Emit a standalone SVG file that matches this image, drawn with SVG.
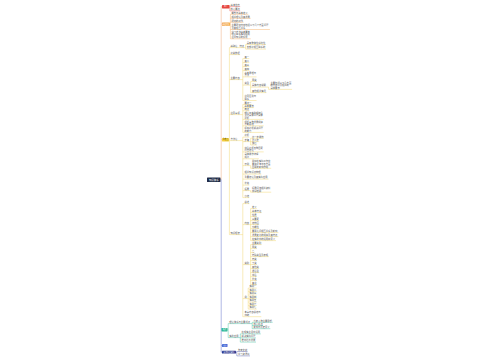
<svg xmlns="http://www.w3.org/2000/svg" width="500" height="360" viewBox="0 0 500 360">
<style>
.t{font-family:"Noto Sans CJK SC","Noto Sans",sans-serif;font-size:2.3px;fill:#555}
.w{font-family:"Noto Sans CJK SC","Noto Sans",sans-serif;font-size:1.8px;fill:#fff;text-anchor:middle}
.c{fill:none;stroke-width:0.45}
.cr{stroke:#ea5a52}.co{stroke:#f5ae62}.cy{stroke:#f2d466}.ct{stroke:#45c2a4}.cn{stroke:#5a64b4}
.cu{stroke:#f4c3a2;stroke-width:0.7}.cd{stroke:#8e9ad8;stroke-width:0.7}
</style>
<rect width="500" height="360" fill="#fff"/>
<g id="connectors">
<path class="c cu" d="M220.5,179.7 H221.2 V6.7 H222 M221.2,24.2 H222 M221.2,139.7 H222"/>
<path class="c cd" d="M220.5,179.7 H221.2 V352.2 H222 M221.2,329.7 H221.5 M221.2,345.5 H222"/>
<path class="c cr" d="M229.5,6.7 H229.8 M229.8,6.6 V10.9 M229.8,6.6 H240.2 M229.8,10.9 H240.2"/>
<path class="c co" d="M230,24.2 H230.4 M230.4,14.3 V38.8 M230.4,14.3 H248.3 M230.4,18.3 H250.7 M230.4,22.3 H243.5 M230.4,29.5 H269.9 M230.4,38.8 H250.7"/>
<path class="c cy" d="M229,139.7 H229.4 M229.4,47.6 V234.6 M229.4,47.6 H244.3 M229.4,54.6 H240.1 M229.4,79.6 H240.1 M229.4,114.6 H240.1 M229.4,140.6 H237.7 M229.4,234.6 H240.1
M244.3,47.6 H245.6 M245.6,44.6 V49.1 M245.6,44.6 H266 M245.6,49.1 H266
M240.1,79.6 H242.8 M242.8,58.6 V100.5 M242.8,58.6 H249.3 M242.8,62.6 H249.3 M242.8,66.6 H249.3 M242.8,70.6 H249.3 M242.8,76.9 H256.5 M242.8,85.1 H249.3 M242.8,100.5 H256.5
M249.3,85.1 H250.6 M250.6,81.6 V92.6 M250.6,81.6 H256.8 M250.6,87.1 H266.4 M250.6,92.6 H266.4 M266.4,87.1 H268.6 V89.4 H292.1
M240.1,114.6 H242.8 M242.8,104.4 V132.4 M242.8,104.4 H251.7 M242.8,107.6 H254.1 M242.8,110.8 H249.3 M242.8,119.4 H263.7 M242.8,125.8 H263.7 M242.8,132.4 H263.7
M237.7,140.6 H242.8 M242.8,137.1 V197.6 M242.8,137.1 H249.3 M242.8,141.6 H249.3 M242.8,151.9 H263.7 M242.8,158.8 H258.9 M242.8,165.6 H249.3 M242.8,174.1 H261.3 M242.8,179.1 H268.5 M242.8,185.1 H249.3 M242.8,190.6 H249.3 M242.8,197.6 H249.3
M249.3,141.6 H250.6 M250.6,138.2 V145 M250.6,138.2 H264 M250.6,141.6 H259.2 M250.6,145 H256.8
M249.3,165.6 H250.6 V168.3 H271.2 M249.3,190.6 H250.6 V192.2 H271.2
M240.1,234.6 H242.8 M242.8,203.6 V316.7 M242.8,203.6 H249.3 M242.8,224.6 H249.3 M242.8,264.6 H249.3 M242.8,298.6 H246.9 M242.8,316.7 H261.3
M249.3,224.6 H250.6 M250.6,208.6 V240.6 M250.6,208.6 H256.8 M250.6,212.6 H261.6 M250.6,216.6 H256.8 M250.6,220.6 H259.2 M250.6,224.6 H259.2 M250.6,228.6 H259.2 M250.6,232.6 H278.4 M250.6,236.6 H278.4 M250.6,240.6 H276
M249.3,264.6 H250.6 M250.6,244.6 V284.6 M250.6,244.6 H261.6 M250.6,248.6 H256.8 M250.6,252.6 H254.4 M250.6,256.6 H268.8 M250.6,260.6 H256.8 M250.6,264.6 H256.8 M250.6,268.6 H259.2 M250.6,272.6 H259.2 M250.6,276.6 H256.8 M250.6,280.6 H256.8 M250.6,284.6 H256.8
M246.9,298.6 H248.2 M248.2,288.1 V309.1 M248.2,288.1 H256.7 M248.2,291.6 H256.7 M248.2,295.1 H256.7 M248.2,298.6 H256.7 M248.2,302.1 H256.7 M248.2,305.6 H256.7 M248.2,309.1 H256.7"/>
<path class="c ct" d="M227.5,329.7 H228.2 M228.2,323.6 V337.6 M228.2,323.6 H250.9 M228.2,337.6 H238.9
M250.9,323.6 H252.2 M252.2,322.3 V328.7 M252.2,322.3 H272.7 M252.2,325.5 H263.1 M252.2,328.7 H270.3
M238.9,337.6 H240.3 M240.3,333.9 V342.1 M240.3,333.9 H260.8 M240.3,337.9 H256 M240.3,342.1 H256"/>
<path class="c cn" d="M236,352.2 H236.8 M236.8,351.5 V355.9 M236.8,351.5 H247.6 M236.8,355.9 H250"/>
</g>
<g id="root"><rect x="207" y="177.5" width="13.5" height="4.5" rx="0.5" fill="#1f2b47"/><text class="w" x="213.75" y="180.6" style="font-size:2.4px">知识体系</text></g>
<g id="b-red"><rect x="222" y="5" width="7.5" height="3.4" rx="0.4" fill="#e5453d"/><text class="w" x="225.75" y="7.4">简介</text></g>
<g id="b-red-1"><text class="t" x="230.6" y="5.9">基本信息</text></g>
<g id="b-red-2"><text class="t" x="230.6" y="10.2">核心要点</text></g>
<g id="b-orange"><rect x="222" y="22.6" width="8" height="3.2" rx="0.4" fill="#f4a340"/><text class="w" x="226" y="24.9">基础知识</text></g>
<g id="b-orange-1"><text class="t" x="231.5" y="13.6">概念与基本定义</text></g>
<g id="b-orange-2"><text class="t" x="231.5" y="17.6">相关理论及其发展</text></g>
<g id="b-orange-3"><text class="t" x="231.5" y="21.6">研究的对象</text></g>
<g id="b-orange-4"><text class="t" x="231.5" y="26.1">主要研究内容包括以下几个方面问题</text><text class="t" x="231.5" y="28.8">及其相互关系</text></g>
<g id="b-orange-5"><text class="t" x="231.5" y="32.7">学习方法基本要求</text><text class="t" x="231.5" y="35.4">理论联系实际运用</text><text class="t" x="231.5" y="38.1">注重知识的积累</text></g>
<g id="b-yellow"><rect x="222" y="138" width="7" height="3.4" rx="0.4" fill="#f3cf3f"/><text class="w" x="225.5" y="140.3" style="fill:#6b5500">重难点</text></g>
<g id="y1"><text class="t" x="230.5" y="46.9">基础论</text></g>
<g id="y1-1"><text class="t" x="239.5" y="46.9">特点</text></g>
<g id="y1-1-1"><text class="t" x="246.8" y="43.9">具有整体性系统性</text></g>
<g id="y1-1-2"><text class="t" x="246.8" y="48.4">各部分相互联系的</text></g>
<g id="y2"><text class="t" x="230.5" y="53.9">分类依据</text></g>
<g id="y3"><text class="t" x="230.5" y="78.9">主要内容</text></g>
<g id="y3-items">
<text class="t" x="244.5" y="57.9">其一</text>
<text class="t" x="244.5" y="61.9">其二</text>
<text class="t" x="244.5" y="65.9">其三</text>
<text class="t" x="244.5" y="69.9">其四</text>
<text class="t" x="244.5" y="73.5">基本原理与</text><text class="t" x="244.5" y="76.2">方法</text>
<text class="t" x="244.5" y="97.1">注意区别与</text><text class="t" x="244.5" y="99.8">联系</text>
</g>
<g id="y3-type"><text class="t" x="244.5" y="84.4">类型</text></g>
<g id="y3-type-items">
<text class="t" x="252" y="80.9">甲类</text>
<text class="t" x="252" y="86.4">具体内容说明</text>
<text class="t" x="252" y="91.9">其他相关情况</text>
<text class="t" x="270.5" y="83.5">主要包括以下几方面</text><text class="t" x="270.5" y="86.1">的内容以及相关的</text><text class="t" x="270.5" y="88.7">具体要求</text>
</g>
<g id="y4"><text class="t" x="230.5" y="113.9">注意事项</text></g>
<g id="y4-items">
<text class="t" x="244.5" y="103.7">要点一</text>
<text class="t" x="244.5" y="106.9">基本要求</text>
<text class="t" x="244.5" y="110.1">两点</text>
<text class="t" x="244.5" y="113.5">理论与实践相结合</text><text class="t" x="244.5" y="116.1">坚持具体问题具体</text><text class="t" x="244.5" y="118.7">分析</text>
<text class="t" x="244.5" y="122.5">把握事物发展规律</text><text class="t" x="244.5" y="125.1">不断总结</text>
<text class="t" x="244.5" y="129.1">提高分析解决问题</text><text class="t" x="244.5" y="131.7">的能力</text>
</g>
<g id="y5"><text class="t" x="230.5" y="139.9">方法论</text></g>
<g id="y5-items">
<text class="t" x="244.5" y="136.4">分析</text>
<text class="t" x="244.5" y="140.9">步骤</text>
<text class="t" x="252" y="137.5">第一步操作</text>
<text class="t" x="252" y="140.9">第二步</text>
<text class="t" x="252" y="144.3">最后</text>
<text class="t" x="244.5" y="148.5">综合分析各种因素</text><text class="t" x="244.5" y="151.2">得出结论</text>
<text class="t" x="244.5" y="155.4">具体操作流程</text><text class="t" x="244.5" y="158.1">规范</text>
<text class="t" x="244.5" y="164.9">示例</text>
<text class="t" x="252" y="162.4">例如在实际工作中</text><text class="t" x="252" y="165">要充分考虑各方面</text><text class="t" x="252" y="167.6">因素的影响作用</text>
<text class="t" x="244.5" y="173.4">相关知识点梳理</text>
<text class="t" x="244.5" y="178.4">重要结论及其实际应用</text>
<text class="t" x="244.5" y="184.4">补充</text>
<text class="t" x="244.5" y="189.9">拓展</text>
<text class="t" x="252" y="188.9">拓展阅读相关资料</text><text class="t" x="252" y="191.5">加深理解</text>
<text class="t" x="244.5" y="196.9">小结</text>
</g>
<g id="y6"><text class="t" x="230.5" y="233.9">知识框架</text></g>
<g id="y6-items">
<text class="t" x="244.5" y="202.9">总述</text>
<text class="t" x="244.5" y="223.9">内容</text>
<text class="t" x="252" y="207.9">定义</text>
<text class="t" x="252" y="211.9">基本特征</text>
<text class="t" x="252" y="215.9">性质</text>
<text class="t" x="252" y="219.9">三要素</text>
<text class="t" x="252" y="223.9">结构图</text>
<text class="t" x="252" y="227.9">功能性</text>
<text class="t" x="252" y="231.9">要素之间相互关系及影响</text>
<text class="t" x="252" y="235.9">发展变化的规律及其特点</text>
<text class="t" x="252" y="239.9">在实践中的运用和意义</text>
<text class="t" x="244.5" y="263.9">类别</text>
<text class="t" x="252" y="243.9">主要类别</text>
<text class="t" x="252" y="247.9">甲类</text>
<text class="t" x="252" y="251.9">乙</text>
<text class="t" x="252" y="255.9">特殊类型及表现</text>
<text class="t" x="252" y="259.9">丙类</text>
<text class="t" x="252" y="263.9">丁类</text>
<text class="t" x="252" y="267.9">其他类</text>
<text class="t" x="252" y="271.9">混合型</text>
<text class="t" x="252" y="275.9">综合</text>
<text class="t" x="252" y="279.9">补充</text>
<text class="t" x="252" y="283.9">备注</text>
<text class="t" x="244.5" y="297.9">例</text>
<text class="t" x="249.5" y="287.4">实例一</text>
<text class="t" x="249.5" y="290.9">实例二</text>
<text class="t" x="249.5" y="294.4">实例三</text>
<text class="t" x="249.5" y="297.9">实例四</text>
<text class="t" x="249.5" y="301.4">实例五</text>
<text class="t" x="249.5" y="304.9">实例六</text>
<text class="t" x="249.5" y="308.4">实例七</text>
<text class="t" x="244.5" y="313.4">本章内容总结与</text><text class="t" x="244.5" y="316">归纳</text>
</g>
<g id="b-teal"><rect x="221.5" y="328" width="6" height="3.4" rx="0.4" fill="#2cb797"/><text class="w" x="224.5" y="330.3">拓展</text></g>
<g id="t1"><text class="t" x="229.3" y="322.9">理论体系与主要观点</text></g>
<g id="t1-items">
<text class="t" x="253.5" y="321.6">代表人物主要思想</text>
<text class="t" x="253.5" y="324.8">核心观点</text>
<text class="t" x="253.5" y="328">影响与历史意义</text>
</g>
<g id="t2"><text class="t" x="229.3" y="336.9">实践应用</text></g>
<g id="t2-items">
<text class="t" x="241.6" y="333.2">在现实生活中运用</text>
<text class="t" x="241.6" y="337.2">解决实际问题</text>
<text class="t" x="241.6" y="341.4">推动社会发展</text>
</g>
<g id="b-blue"><rect x="222" y="344" width="5.5" height="3" rx="0.4" fill="#4568d6"/><text class="w" x="224.75" y="346.1" style="font-size:1.6px">总结</text></g>
<g id="b-navy"><rect x="222" y="350.8" width="14" height="2.8" rx="0.4" fill="#2e3990"/><text class="w" x="229" y="352.8">延伸阅读资料</text></g>
<g id="n-items">
<text class="t" x="238" y="350.8">参考文献</text>
<text class="t" x="238" y="355.2">学习资源库</text>
</g>
</svg>
